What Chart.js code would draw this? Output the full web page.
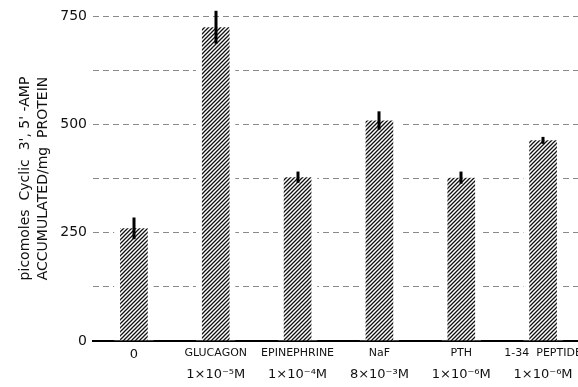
<!DOCTYPE html>
<html>
<head>
<meta charset="utf-8">
<script src="https://cdn.jsdelivr.net/npm/chart.js@4.4.1/dist/chart.umd.min.js"></script>
<style>
  html, body { margin: 0; padding: 0; background: #fff; overflow: hidden; }
  body { width: 578px; height: 387px; }
</style>
</head>
<body>
<canvas id="myChart" width="600" height="387"></canvas>
<script>
'use strict';
// chart data
const treatments = ['0', 'GLUCAGON', 'EPINEPHRINE', 'NaF', 'PTH', '1-34  PEPTIDE'];
const concentrations = ['', '1×10⁻⁵M', '1×10⁻⁴M', '8×10⁻³M', '1×10⁻⁶M', '1×10⁻⁶M'];
const campValues = [260, 724, 378, 509, 377, 463];
const campErrors = [25, 38, 13, 21, 14, 8];
const yTicks = [0, 250, 500, 750];

Chart.defaults.font.family = '"DejaVu Sans", sans-serif';
Chart.defaults.color = '#111';

// diagonal hatching for the bars
function makeHatch() {
  const c = document.createElement('canvas');
  c.width = 4;
  c.height = 4;
  const g = c.getContext('2d');
  g.fillStyle = '#fff';
  g.fillRect(0, 0, 4, 4);
  g.strokeStyle = '#111';
  g.lineWidth = 1.3;
  g.beginPath();
  g.moveTo(0, 4); g.lineTo(4, 0);
  g.moveTo(-1, 1); g.lineTo(1, -1);
  g.moveTo(3, 5); g.lineTo(5, 3);
  g.stroke();
  return g.createPattern(c, 'repeat');
}

// thick black error lines, no caps
const errorBars = {
  id: 'errorBars',
  afterDraw(chart) {
    const ctx = chart.ctx;
    const meta = chart.getDatasetMeta(0);
    const y = chart.scales.y;
    ctx.save();
    ctx.fillStyle = '#000';
    meta.data.forEach((bar, i) => {
      const top = y.getPixelForValue(campValues[i] + campErrors[i]);
      const bottom = y.getPixelForValue(campValues[i] - campErrors[i]);
      ctx.fillRect(Math.round(bar.x) - 1.5, top, 3, bottom - top);
    });
    ctx.restore();
  }
};

const ctx = document.getElementById('myChart').getContext('2d');
new Chart(ctx, {
  type: 'bar',
  data: {
    labels: treatments,
    datasets: [{
      data: campValues,
      backgroundColor: makeHatch(),
      borderColor: '#fff',
      borderWidth: { left: 6, right: 6, top: 0, bottom: 0 },
      borderSkipped: false,
      barThickness: 39,
    }],
  },
  plugins: [errorBars],
  options: {
    responsive: false,
    animation: false,
    layout: { padding: { left: 4, right: 16, top: 16, bottom: 0 } },
    plugins: { legend: { display: false }, tooltip: { enabled: false } },
    scales: {
      x: {
        weight: 0,
        grid: { display: false, drawTicks: false },
        border: { display: true, color: '#000', width: 2 },
        ticks: {
          autoSkip: false,
          maxRotation: 0,
          padding: 6,
          font: (c) => (c.index === 0 ? { size: 13 } : { size: 11 }),
        },
        afterFit(scale) { scale.height = 22; },
      },
      x2: {
        type: 'category',
        position: 'bottom',
        weight: 1,
        offset: true,
        labels: concentrations,
        grid: { display: false, drawTicks: false },
        border: { display: false },
        ticks: { autoSkip: false, maxRotation: 0, padding: 4, font: { size: 13 } },
        afterFit(scale) { scale.height = 24; },
      },
      y: {
        min: 0,
        max: 750,
        border: { display: false, dash: [6, 4] },
        grid: {
          drawTicks: false,
          color: (c) => (c.tick && c.tick.value === 0 ? 'rgba(0,0,0,0)' : '#8a8a8a'),
        },
        ticks: {
          stepSize: 125,
          padding: 6,
          font: { size: 14 },
          callback: (v) => (yTicks.includes(v) ? v : ''),
        },
        title: {
          display: true,
          text: ["picomoles  Cyclic  3', 5' -AMP", 'ACCUMULATED/mg  PROTEIN'],
          font: { size: 14, lineHeight: 1.25 },
          padding: { top: 13, bottom: 4 },
        },
        afterFit(scale) { scale.width = 89; },
      },
    },
  },
});
</script>
</body>
</html>
